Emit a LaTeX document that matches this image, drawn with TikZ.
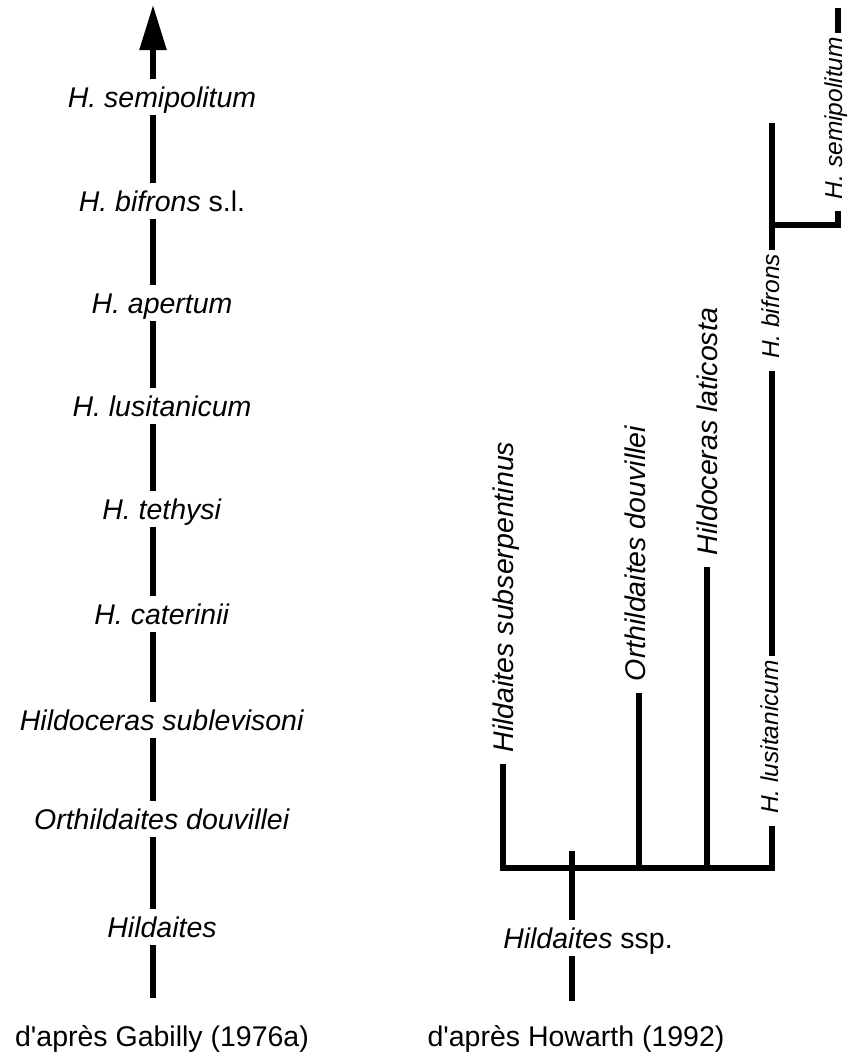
\documentclass[tikz,border=0pt]{standalone}
\usepackage{fontspec}
\setmainfont{Liberation Sans}
\usetikzlibrary{arrows.meta}
\newcommand\straightquote{\XeTeXglyph\XeTeXcharglyph"27\relax}
\begin{document}
\begin{tikzpicture}[x=1pt,y=-1pt,
  stem/.style={line width=5.5pt, line join=miter},
  lab/.style={font=\fontsize{28.5}{34}\selectfont, text height=23pt, text depth=3pt, inner sep=5pt},
  vlab/.style={font=\fontsize{28.5}{34}\selectfont\itshape, rotate=90, anchor=base, inner xsep=4pt, inner ysep=2pt},
  vlabs/.style={vlab, font=\fontsize{24.5}{30}\selectfont\itshape},
  botgap/.style={shorten >=8pt}
]
\useasboundingbox (0,0) rectangle (857,1055);

% ---------- left column: Gabilly ----------
\coordinate (axL) at (153,0);
\coordinate (tipL) at (153,5);
\coordinate (endL) at (153,998);
\node[lab] (L1) at (162,97)  {\textit{H. semipolitum}};
\node[lab] (L2) at (162,201) {\textit{H. bifrons} s.l.};
\node[lab] (L3) at (162,303) {\textit{H. apertum}};
\node[lab] (L4) at (162,406) {\textit{H. lusitanicum}};
\node[lab] (L5) at (162,509) {\textit{H. tethysi}};
\node[lab] (L6) at (162,614) {\textit{H. caterinii}};
\node[lab] (L7) at (162,720) {\textit{Hildoceras sublevisoni}};
\node[lab] (L8) at (162,819) {\textit{Orthildaites douvillei}};
\node[lab] (L9) at (162,927) {\textit{Hildaites}};
\node[lab] (LB) at (162,1036) {d\straightquote après Gabilly (1976a)};

\draw[stem, -{Triangle[length=45pt,width=26pt]}] (L1.north -| axL) -- (tipL);
\draw[stem] (L2.north -| axL) -- (L1.south -| axL);
\draw[stem] (L3.north -| axL) -- (L2.south -| axL);
\draw[stem] (L4.north -| axL) -- (L3.south -| axL);
\draw[stem] (L5.north -| axL) -- (L4.south -| axL);
\draw[stem] (L6.north -| axL) -- (L5.south -| axL);
\draw[stem] (L7.north -| axL) -- (L6.south -| axL);
\draw[stem] (L8.north -| axL) -- (L7.south -| axL);
\draw[stem] (L9.north -| axL) -- (L8.south -| axL);
\draw[stem] (L9.south -| axL) -- (endL);

% ---------- right part: Howarth ----------
\coordinate (xA) at (503,0);
\coordinate (xR) at (572,0);
\coordinate (xO) at (639,0);
\coordinate (xH) at (707,0);
\coordinate (xB) at (772,0);
\coordinate (xS) at (838,0);

\node[vlab]  (R1) at (513,597)   {Hildaites subserpentinus};
\node[vlab]  (R2) at (645,553.5) {Orthildaites douvillei};
\node[vlab]  (R3) at (717,431.5) {Hildoceras laticosta};
\node[vlabs] (R4) at (778,737)   {H. lusitanicum};
\node[vlabs] (R5) at (779,306.5) {H. bifrons};
\node[vlabs] (R6) at (842,118)   {H. semipolitum};

\node[lab] (RS) at (588,938) {\textit{Hildaites} ssp.};
\node[lab] (RB) at (576,1036) {d\straightquote après Howarth (1992)};

\coordinate (rootTop) at (572,851);
\coordinate (rootEnd) at (572,1001);
\coordinate (barL) at (503,868);
\coordinate (barR) at (772,868);
\coordinate (bfTop) at (772,123);
\coordinate (brA) at (772,225);
\coordinate (brB) at (838,225);
\coordinate (spTop) at (838,8);

% main bar with the outer branches
\draw[stem, shorten <=8pt, shorten >=8pt] (R1.west -| xA) -- (barL) -- (barR) -- (R4.west -| xB);
% inner branches
\draw[stem, botgap] (barL -| xO) -- (R2.west -| xO);
\draw[stem, botgap] (barL -| xH) -- (R3.west -| xH);
% root
\draw[stem] (rootTop) -- (RS.north -| xR);
\draw[stem] (RS.south -| xR) -- (rootEnd);
% H. lusitanicum -> H. bifrons lineage
\draw[stem, botgap] (R4.east -| xB) -- (R5.west -| xB);
\draw[stem] (R5.east -| xB) -- (bfTop);
% H. semipolitum branch
\draw[stem, botgap] (brA) -- (brB) -- (R6.west -| xS);
\draw[stem] (R6.east -| xS) -- (spTop);
\end{tikzpicture}
\end{document}
